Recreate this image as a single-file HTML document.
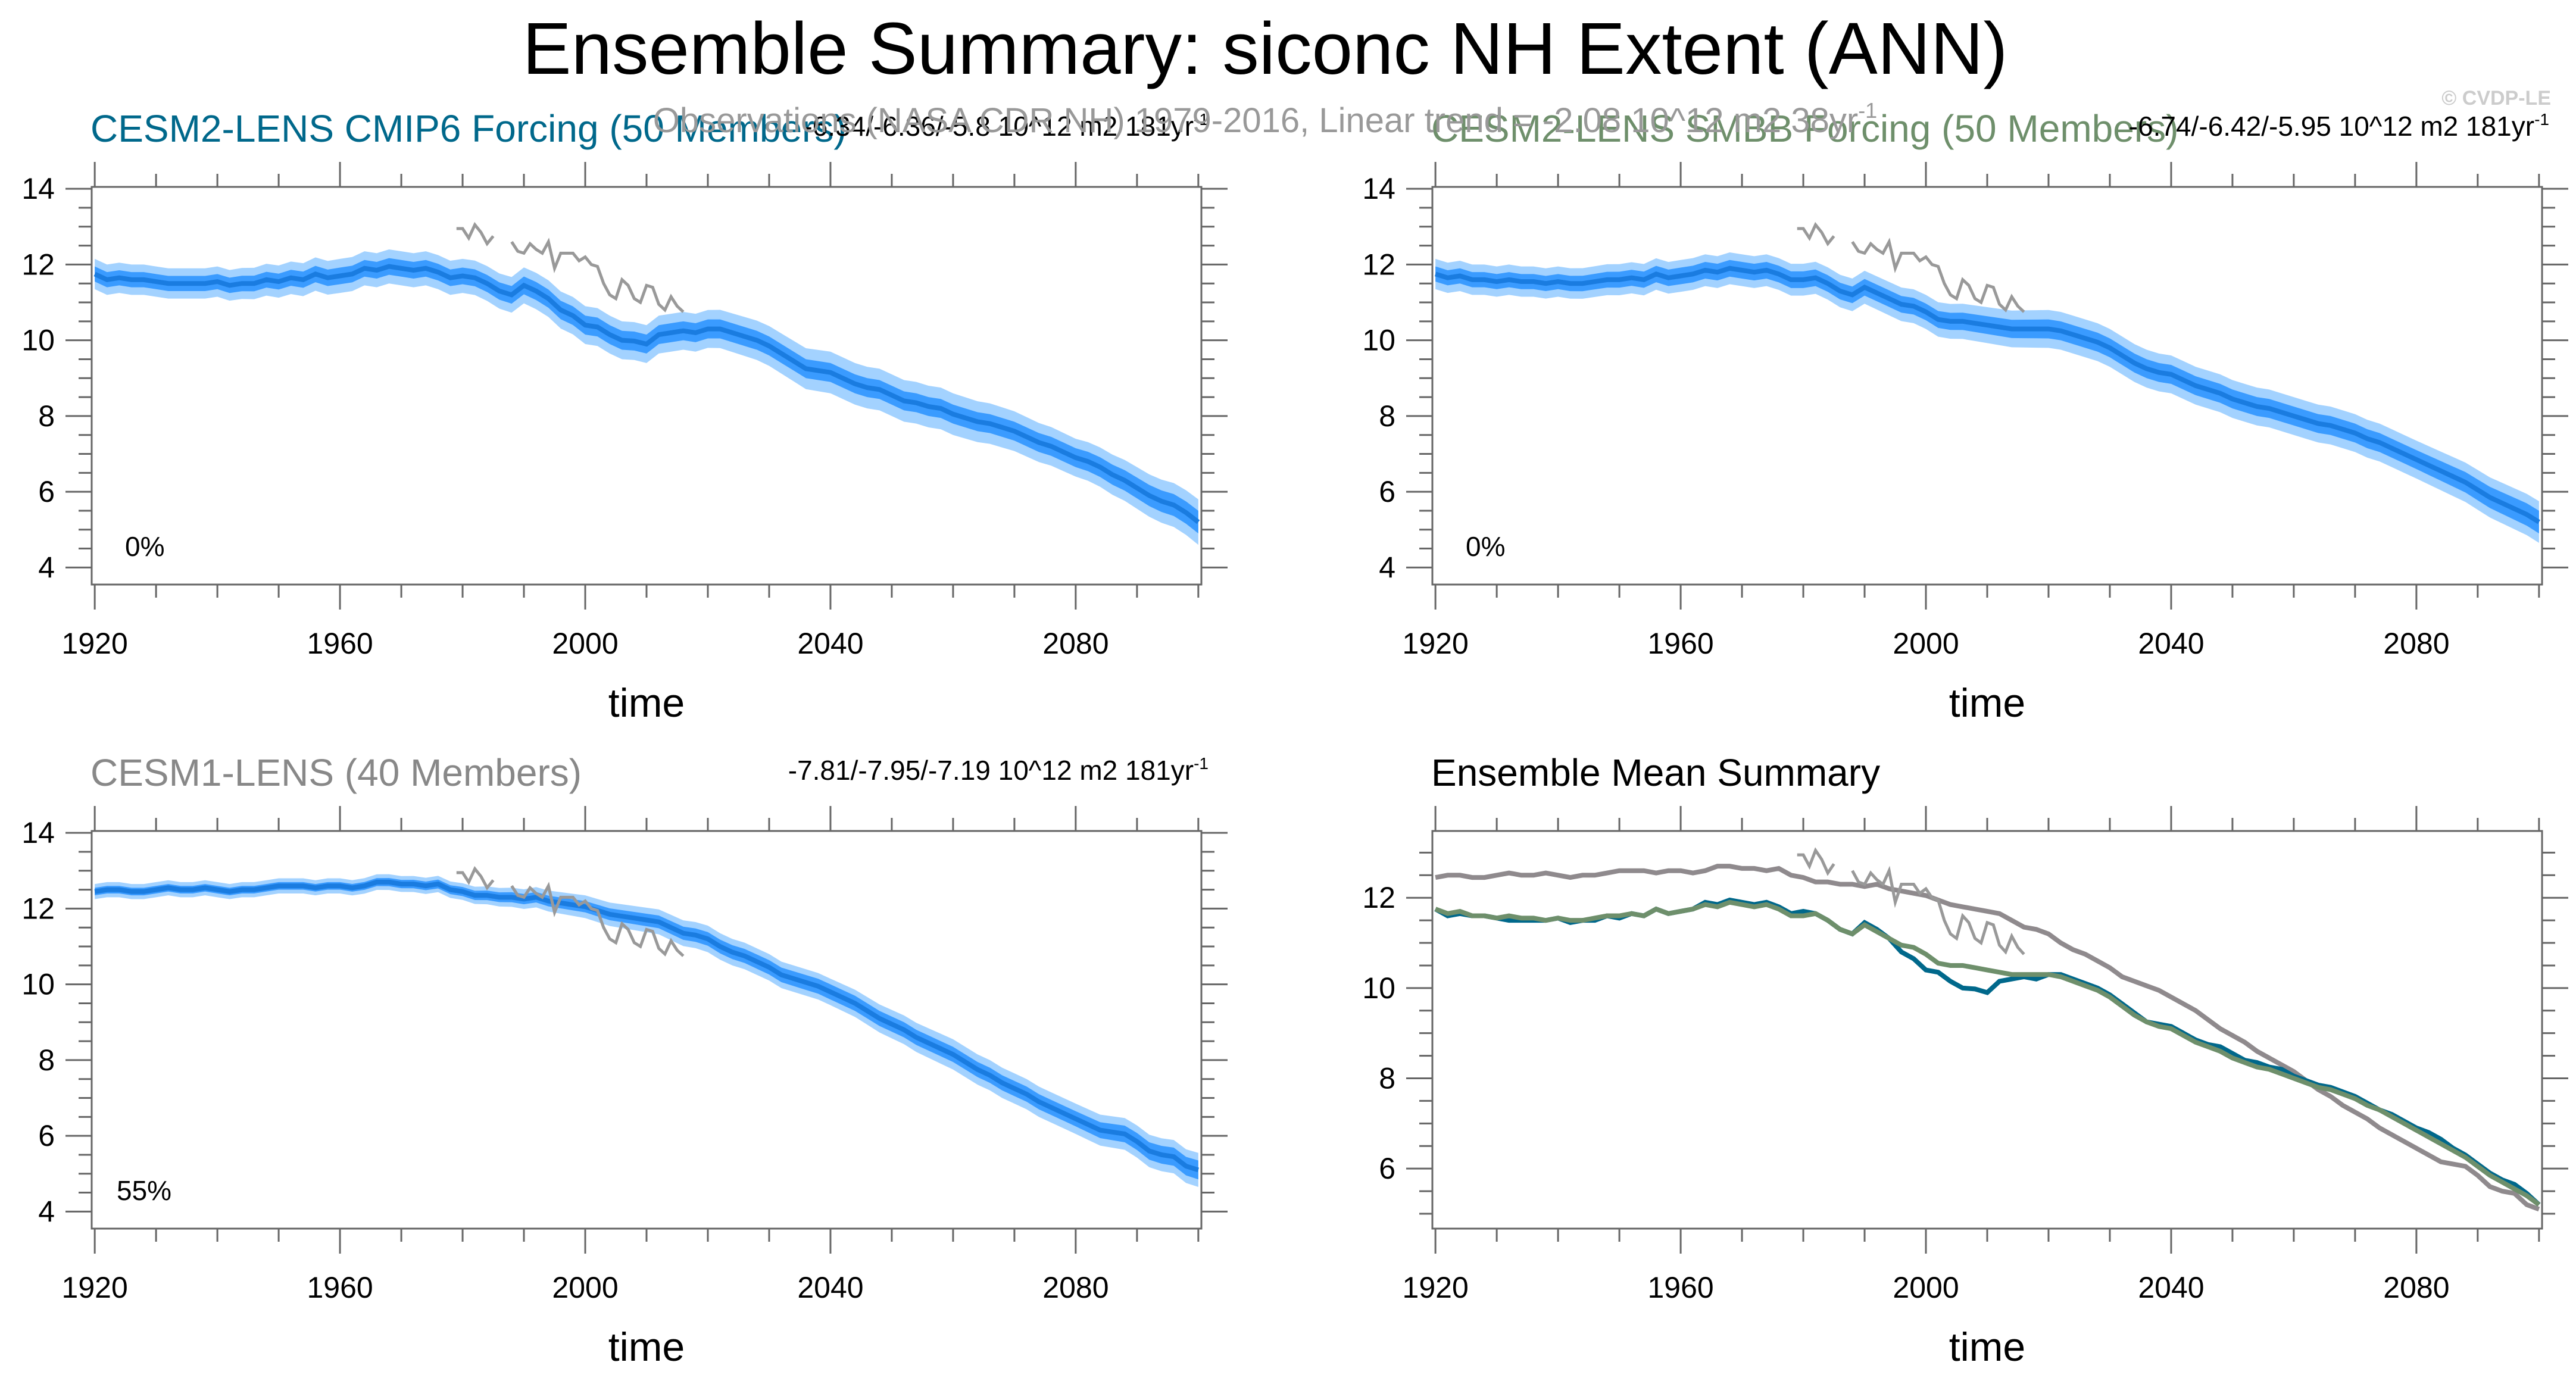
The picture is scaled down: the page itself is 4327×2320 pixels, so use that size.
<!DOCTYPE html>
<html><head><meta charset="utf-8"><style>
html,body{margin:0;padding:0;background:#fff;}
svg{display:block;font-family:"Liberation Sans",sans-serif;}
</style></head><body>
<svg id="chart" width="4327" height="2320" viewBox="0 0 4327 2320" xmlns="http://www.w3.org/2000/svg">
<text x="2125" y="124" font-size="123" text-anchor="middle" fill="#000">Ensemble Summary: siconc NH Extent (ANN)</text>
<text x="4285" y="176" font-size="34" text-anchor="end" fill="#ccc" font-weight="bold">© CVDP-LE</text>
<g id="panels"></g>
<text x="2125" y="222" font-size="58" text-anchor="middle" fill="#999">Observations (NASA CDR NH) 1979-2016, Linear trend = -2.08 10^12 m2 38yr<tspan font-size="36" dy="-24">-1</tspan></text>
</svg>
<script>
const years2 = [];
for (let y = 1920; y <= 2100; y += 2) years2.push(y);
const cmip6Mean = [11.75,11.6,11.65,11.6,11.6,11.55,11.5,11.5,11.5,11.5,11.55,11.45,11.5,11.5,11.6,11.55,11.65,11.6,11.75,11.65,11.7,11.75,11.9,11.85,11.95,11.9,11.85,11.9,11.8,11.65,11.7,11.65,11.5,11.3,11.2,11.45,11.3,11.1,10.8,10.65,10.4,10.35,10.15,10.0,9.98,9.9,10.15,10.2,10.25,10.2,10.3,10.3,10.2,10.1,10.0,9.85,9.65,9.45,9.25,9.2,9.15,9.0,8.85,8.75,8.7,8.55,8.4,8.35,8.25,8.2,8.05,7.95,7.85,7.8,7.7,7.6,7.45,7.3,7.2,7.05,6.9,6.8,6.65,6.45,6.3,6.1,5.9,5.75,5.65,5.45,5.2];
const smbbMean = [11.75,11.65,11.7,11.6,11.6,11.55,11.6,11.55,11.55,11.5,11.55,11.5,11.5,11.55,11.6,11.6,11.65,11.6,11.75,11.65,11.7,11.75,11.85,11.8,11.9,11.85,11.8,11.85,11.75,11.6,11.6,11.65,11.5,11.3,11.2,11.4,11.25,11.1,10.95,10.9,10.75,10.55,10.5,10.5,10.45,10.4,10.35,10.3,10.3,10.3,10.3,10.25,10.15,10.05,9.95,9.8,9.6,9.4,9.25,9.15,9.1,8.95,8.8,8.7,8.6,8.45,8.35,8.25,8.2,8.1,8.0,7.9,7.8,7.75,7.65,7.55,7.4,7.3,7.15,7.0,6.85,6.7,6.55,6.4,6.25,6.05,5.85,5.7,5.55,5.4,5.2];
const cesm1Mean = [12.45,12.5,12.5,12.45,12.45,12.5,12.55,12.5,12.5,12.55,12.5,12.45,12.5,12.5,12.55,12.6,12.6,12.6,12.55,12.6,12.6,12.55,12.6,12.7,12.7,12.65,12.65,12.6,12.65,12.5,12.45,12.35,12.35,12.3,12.3,12.25,12.3,12.2,12.15,12.1,12.05,11.95,11.85,11.8,11.75,11.7,11.65,11.5,11.35,11.3,11.2,11.0,10.85,10.75,10.6,10.45,10.25,10.15,10.05,9.95,9.8,9.65,9.5,9.3,9.1,8.95,8.8,8.6,8.45,8.3,8.15,7.95,7.75,7.6,7.4,7.25,7.1,6.9,6.75,6.6,6.45,6.3,6.15,6.1,6.05,5.85,5.6,5.5,5.45,5.2,5.1];
const obsYears = [1979,1980,1981,1982,1983,1984,1985,1986,1987,1988,1989,1990,1991,1992,1993,1994,1995,1996,1997,1998,1999,2000,2001,2002,2003,2004,2005,2006,2007,2008,2009,2010,2011,2012,2013,2014,2015,2016];
const obsValues = [12.95,12.95,12.7,13.05,12.85,12.55,12.75,null,null,12.6,12.35,12.3,12.55,12.4,12.3,12.6,11.9,12.3,12.3,12.3,12.1,12.2,12.0,11.95,11.5,11.2,11.1,11.6,11.45,11.1,11.0,11.45,11.4,10.95,10.8,11.15,10.9,10.75];
const spreadYears = [1920,1940,1960,1980,2000,2020,2040,2060,2080,2100];
const cmip6Inner = [0.2,0.2,0.22,0.22,0.25,0.25,0.25,0.25,0.25,0.3];
const cmip6Outer = [0.4,0.4,0.45,0.45,0.5,0.5,0.55,0.55,0.5,0.6];
const smbbInner = [0.2,0.2,0.22,0.22,0.22,0.25,0.25,0.25,0.25,0.3];
const smbbOuter = [0.4,0.4,0.42,0.42,0.45,0.5,0.5,0.5,0.5,0.55];
const cesm1Inner = [0.1,0.1,0.1,0.12,0.15,0.18,0.2,0.2,0.2,0.25];
const cesm1Outer = [0.2,0.2,0.2,0.22,0.3,0.35,0.35,0.4,0.4,0.45];
const yTicksMain = [4,6,8,10,12,14];
const yTicksSummary = [6,8,10,12];
const xTicks = [1920,1960,2000,2040,2080];

const NS = "http://www.w3.org/2000/svg";
const root = document.getElementById('panels');
function mk(tag, attrs, parent){const e=document.createElementNS(NS,tag);for(const k in attrs)e.setAttribute(k,attrs[k]);(parent||root).appendChild(e);return e;}
function spreadAt(arr, yr){for(let i=0;i<spreadYears.length-1;i++){if(yr<=spreadYears[i+1]){const t=(yr-spreadYears[i])/(spreadYears[i+1]-spreadYears[i]);return arr[i]+(arr[i+1]-arr[i])*t;}}return arr[arr.length-1];}

function makePanel(p){
  const g = mk('g',{});
  
  
  const xs = yr => p.x0 + (yr-1919.5)/(2100.5-1919.5)*(p.x1-p.x0);
  const ys = v => p.y0 + (p.vmax - v)/(p.vmax - p.vmin)*(p.y1-p.y0);
  const tg = mk('g',{stroke:'#666','stroke-width':3},g);
  for(let yr=1920; yr<=2100; yr+=10){
    const maj = (yr-1920)%40===0; const L = maj?42:22; const x=xs(yr);
    mk('line',{x1:x,x2:x,y1:p.y1,y2:p.y1+L},tg);
    mk('line',{x1:x,x2:x,y1:p.y0,y2:p.y0-L},tg);
  }
  for(let v=Math.ceil(p.vmin*2)/2; v<=p.vmax; v+=0.5){
    const maj = p.ticks.includes(v); const L = maj?44:22; const y=ys(v);
    mk('line',{x1:p.x0,x2:p.x0-L,y1:y,y2:y},tg);
    mk('line',{x1:p.x1,x2:p.x1+L,y1:y,y2:y},tg);
  }
  p.ticks.forEach(v=>{const t=mk('text',{x:p.x0-62,y:ys(v)+17,'font-size':50,'text-anchor':'end',fill:'#000'},g);t.textContent=v;
    
    });
  xTicks.forEach(v=>{const t=mk('text',{x:xs(v),y:p.y1+116,'font-size':50,'text-anchor':'middle',fill:'#000'},g);t.textContent=v;
    
    });
  const xt = mk('text',{x:(p.x0+p.x1)/2,y:p.y1+222,'font-size':68,'text-anchor':'middle',fill:'#000'},g); xt.textContent='time';
  
  
  if(p.mean && p.inner){
    [[p.outer,'#a3d2ff'],[p.inner,'#3a9bff']].forEach(([sp,col])=>{
      let up='',dn='';
      years2.forEach((yr,i)=>{const s=spreadAt(sp,yr);up+=(i?'L':'M')+xs(yr)+','+ys(p.mean[i]+s);});
      for(let i=years2.length-1;i>=0;i--){const s=spreadAt(sp,years2[i]);dn+='L'+xs(years2[i])+','+ys(p.mean[i]-s);}
      const b = mk('path',{d:up+dn+'Z',fill:col,stroke:'none'},g);
      
      
    });
    const l = mk('path',{d:years2.map((yr,i)=>(i?'L':'M')+xs(yr)+','+ys(p.mean[i])).join(''),fill:'none',stroke:'#1a7ce0','stroke-width':8},g);
    
    
  }
  if(p.lines){
    p.lines.forEach(([arr,col,nm])=>{
      const l = mk('path',{d:years2.map((yr,i)=>(i?'L':'M')+xs(yr)+','+ys(arr[i])).join(''),fill:'none',stroke:col,'stroke-width':8},g);
      
      
    });
  }
  let d='',pen=false;
  obsYears.forEach((yr,i)=>{const v=obsValues[i];if(v===null){pen=false;return;}d+=(pen?'L':'M')+xs(yr)+','+ys(v);pen=true;});
  const o = mk('path',{d,fill:'none',stroke:'#999','stroke-width':5},g);
  
  
  const fr = mk('rect',{x:p.x0,y:p.y0,width:p.x1-p.x0,height:p.y1-p.y0,fill:'none',stroke:'#666','stroke-width':3},g);
  
  
  const ti = mk('text',{x:p.x0-2,y:p.y0-76,'font-size':64,fill:p.titleColor},g); ti.textContent=p.title;
  
  
  if(p.trend){const tr=mk('text',{x:p.x1+12,y:p.y0-86,'font-size':46,'text-anchor':'end',fill:'#000'},g);
    tr.innerHTML=p.trend+'<tspan font-size="28" dy="-18">-1</tspan>';
    
    }
  if(p.pct){const pc=mk('text',{x:p.x0+p.pctdx,y:p.y1-48,'font-size':46,fill:'#000'},g);pc.textContent=p.pct;
    
    }
}
makePanel({name:'panel-cesm2-cmip6',x0:154,x1:2018,y0:314,y1:982,vmin:3.55,vmax:14.05,ticks:yTicksMain,mean:cmip6Mean,inner:cmip6Inner,outer:cmip6Outer,title:'CESM2-LENS CMIP6 Forcing (50 Members)',titleColor:'#00688b',trend:'-6.34/-6.36/-5.8 10^12 m2 181yr',pct:'0%',pctdx:56});
makePanel({name:'panel-cesm2-smbb',x0:2406,x1:4270,y0:314,y1:982,vmin:3.55,vmax:14.05,ticks:yTicksMain,mean:smbbMean,inner:smbbInner,outer:smbbOuter,title:'CESM2-LENS SMBB Forcing (50 Members)',titleColor:'#6e8f6b',trend:'-6.74/-6.42/-5.95 10^12 m2 181yr',pct:'0%',pctdx:56});
makePanel({name:'panel-cesm1',x0:154,x1:2018,y0:1396,y1:2064,vmin:3.55,vmax:14.05,ticks:yTicksMain,mean:cesm1Mean,inner:cesm1Inner,outer:cesm1Outer,title:'CESM1-LENS (40 Members)',titleColor:'#888',trend:'-7.81/-7.95/-7.19 10^12 m2 181yr',pct:'55%',pctdx:42});
makePanel({name:'panel-ensemble-mean-summary',x0:2406,x1:4270,y0:1396,y1:2064,vmin:4.67,vmax:13.48,ticks:yTicksSummary,lines:[[cesm1Mean,'#8f8a8d','cesm1-mean-line'],[cmip6Mean,'#00688b','cmip6-mean-line'],[smbbMean,'#6e8f6b','smbb-mean-line']],title:'Ensemble Mean Summary',titleColor:'#000'});
</script>
</body></html>
